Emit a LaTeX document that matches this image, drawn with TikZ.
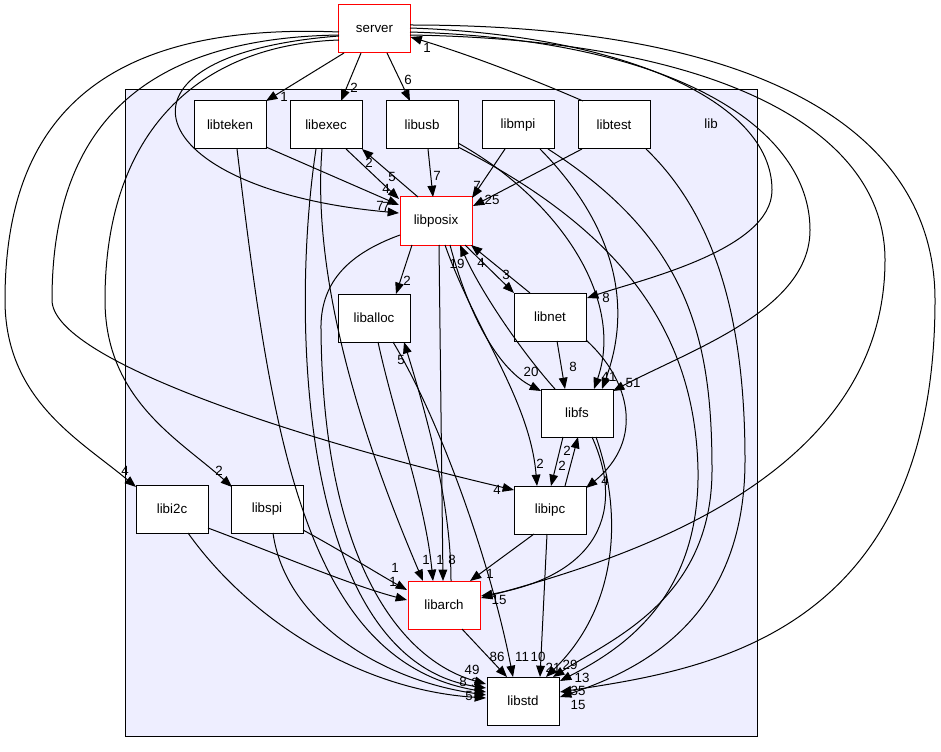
\documentclass[tikz,border=0pt]{standalone}
\usepackage{fontspec}
\setmainfont{Liberation Sans}
\usetikzlibrary{arrows.meta,calc}
\definecolor{clusterfill}{HTML}{EEEEFF}
\begin{document}
\begin{tikzpicture}[x=0.75pt,y=-0.75pt,
  dirbox/.style={draw=black,fill=white,minimum width=54pt,minimum height=36pt,inner sep=0pt,font=\fontsize{10}{12}\selectfont,line width=0.75pt},
  redbox/.style={dirbox,draw=red},
  dep/.style={draw=black,line width=0.75pt,-{Triangle[length=8.5pt,width=6.5pt]}},
  lbl/.style={font=\fontsize{10}{12}\selectfont,inner sep=0pt}]
\useasboundingbox (0,0) rectangle (941,752);
\draw[fill=clusterfill,line width=0.75pt] (125,90) rectangle (757,736);
\node[lbl] (liblabel) at (711,124) {lib};
% nodes
\node[redbox] (server) at (374.5,29) {server};
\node[dirbox] (libteken) at (230,125) {libteken};
\node[dirbox] (libexec) at (326,125) {libexec};
\node[dirbox] (libusb) at (422,125) {libusb};
\node[dirbox] (libmpi) at (518,125) {libmpi};
\node[dirbox] (libtest) at (614,125) {libtest};
\node[redbox] (libposix) at (436,221) {libposix};
\node[dirbox] (liballoc) at (374,318) {liballoc};
\node[dirbox] (libnet) at (550,317) {libnet};
\node[dirbox] (libfs) at (577,413) {libfs};
\node[dirbox] (libipc) at (550,510) {libipc};
\node[dirbox] (libi2c) at (172,509) {libi2c};
\node[dirbox] (libspi) at (267,509) {libspi};
\node[redbox] (libarch) at (444,605) {libarch};
\node[dirbox] (libstd) at (523,701) {libstd};
% edges from server
\draw[dep] ($(server)+(-30.5,24)$) -- ($(libteken)+(36,-24)$) node[lbl,at={(284,97)}] {1};
\draw[dep] ($(server)+(-13.5,24)$) -- ($(libexec)+(15,-24)$) node[lbl,at={(354,88)}] {2};
\draw[dep] ($(server)+(12.5,24)$) -- ($(libusb)+(-12,-24)$) node[lbl,at={(408,80)}] {6};
\draw[dep] ($(libtest)+(-31,-24)$) .. controls (530,78) and (470,55) .. ($(server)+(36,8)$) node[lbl,at={(427,48)}] {1};
\draw[dep] ($(server)+(-35.5,7)$) .. controls (90,55) and (140,190) .. ($(libposix)+(-37,-8)$) node[lbl,at={(380,206)}] {7} node[lbl,at={(386,207)}] {7};
\draw[dep] ($(server)+(-35.5,11)$) .. controls (200,45) and (105,130) .. (105,300) .. controls (105,400) and (180,440) .. ($(libspi)+(-35,-22)$) node[lbl,at={(219,471)}] {2};
\draw[dep] ($(server)+(-35.5,6)$) .. controls (150,38) and (52,120) .. (52,300) .. controls (52,360) and (300,440) .. ($(libipc)+(-36,-20)$) node[lbl,at={(497,490)}] {4};
\draw[dep] ($(server)+(-35.5,3)$) .. controls (100,22) and (5,120) .. (5,300) .. controls (5,400) and (80,440) .. ($(libi2c)+(-36,-22)$) node[lbl,at={(125,471)}] {4};
\draw[dep] ($(server)+(35.5,-1)$) .. controls (620,35) and (772,100) .. (772,190) .. controls (772,250) and (640,280) .. ($(libnet)+(37,-19)$) node[lbl,at={(606,298)}] {8};
\draw[dep] ($(server)+(35.5,3)$) .. controls (680,40) and (810,130) .. (810,230) .. controls (810,310) and (690,350) .. ($(libfs)+(36,-22)$) node[lbl,at={(633,383)}] {51};
\draw[dep] ($(server)+(35.5,6)$) .. controls (720,40) and (885,130) .. (885,260) .. controls (885,480) and (620,560) .. ($(libarch)+(37,-7)$) node[lbl,at={(499,600)}] {15};
\draw[dep] ($(server)+(35.5,-4)$) .. controls (760,25) and (935,130) .. (935,300) .. controls (935,640) and (700,670) .. ($(libstd)+(37,-9)$) node[lbl,at={(578,691)}] {35};
% libtest
\draw[dep] ($(libtest)+(-32,24)$) -- ($(libposix)+(37,-15)$) node[lbl,at={(492,200)}] {25};
\draw[dep] ($(libtest)+(32,24)$) .. controls (720,220) and (745,330) .. (745,460) .. controls (745,620) and (640,670) .. ($(libstd)+(37,-4)$) node[lbl,at={(578,705)}] {15};
% libmpi
\draw[dep] ($(libmpi)+(-13,24)$) -- ($(libposix)+(36,-23)$) node[lbl,at={(477,186)}] {7};
\draw[dep] ($(libmpi)+(22,24)$) .. controls (610,220) and (635,300) .. ($(libfs)+(25,-24)$);
\draw[dep] ($(libmpi)+(30,24)$) .. controls (690,240) and (712,340) .. (712,470) .. controls (712,600) and (610,640) .. ($(libstd)+(30,-24)$) node[lbl,at={(570,665)}] {29};
% libusb
\draw[dep] ($(libusb)+(6,24)$) -- ($(libposix)+(-3,-24)$) node[lbl,at={(437,176)}] {7};
\draw[dep] ($(libusb)+(36,18)$) .. controls (560,200) and (625,300) .. ($(libfs)+(17,-24)$) node[lbl,at={(609,377)}] {41};
\draw[dep] ($(libusb)+(36,22)$) .. controls (620,230) and (695,330) .. (698,470) .. controls (700,600) and (620,650) .. ($(libstd)+(37,-20)$) node[lbl,at={(582,678)}] {13};
% libexec / libteken
\draw[dep] ($(libexec)+(20,24)$) -- ($(libposix)+(-37,-22)$) node[lbl,at={(392,177)}] {5};
\draw[dep] ($(libposix)+(-18,-24)$) -- ($(libexec)+(36,24)$) node[lbl,at={(369,163)}] {2};
\draw[dep] ($(libteken)+(36,22)$) -- ($(libposix)+(-37,-16)$) node[lbl,at={(386,189)}] {4};
\draw[dep] ($(libexec)+(-4,24)$) .. controls (310,300) and (380,480) .. ($(libarch)+(-21,-24)$) node[lbl,at={(426,560)}] {1};
\draw[dep] ($(libexec)+(-10,24)$) .. controls (290,320) and (300,660) .. ($(libstd)+(-37,-13)$) node[lbl,at={(463,682)}] {8};
\draw[dep] ($(libteken)+(7,24)$) .. controls (270,420) and (300,660) .. ($(libstd)+(-37,-9)$) node[lbl,at={(475,683)}] {3};
% libposix
\draw[dep] ($(libposix)+(-24,24)$) -- ($(liballoc)+(22,-24)$) node[lbl,at={(407,281)}] {2};
\draw[dep] ($(libposix)+(-36,14)$) .. controls (345,255) and (320,285) .. (321,330) .. controls (323,560) and (400,660) .. ($(libstd)+(-37,-17)$) node[lbl,at={(472,670)}] {49};
\draw[dep] ($(libposix)+(3,24)$) -- ($(libarch)+(-1,-24)$) node[lbl,at={(452,560)}] {8};
\draw[dep] ($(libposix)+(9,24)$) .. controls (475,330) and (530,400) .. ($(libipc)+(-13,-24)$) node[lbl,at={(540,464)}] {2};
\draw[dep] ($(libposix)+(14,24)$) .. controls (470,320) and (500,370) .. ($(libfs)+(-36,-22)$) node[lbl,at={(531,372)}] {20};
\draw[dep] ($(libfs)+(-22,-24)$) .. controls (520,350) and (480,290) .. ($(libposix)+(24,24)$) node[lbl,at={(457,264)}] {19};
\draw[dep] ($(libposix)+(29,24)$) -- ($(libnet)+(-36,-24)$) node[lbl,at={(506,275)}] {3};
\draw[dep] ($(libnet)+(-20,-24)$) -- ($(libposix)+(35,24)$) node[lbl,at={(481,263)}] {4};
% libnet
\draw[dep] ($(libnet)+(7,24)$) -- ($(libfs)+(-12,-24)$) node[lbl,at={(573,367)}] {8};
\draw[dep] ($(libnet)+(36,23)$) .. controls (630,380) and (645,440) .. ($(libipc)+(36,-22)$) node[lbl,at={(605,481)}] {4};
% libfs
\draw[dep] ($(libfs)+(-14,24)$) -- ($(libipc)+(1,-24)$) node[lbl,at={(562,466)}] {2};
\draw[dep] ($(libipc)+(15,-24)$) -- ($(libfs)+(1,24)$) node[lbl,at={(567,451)}] {2};
\draw[dep] ($(libfs)+(15,24)$) .. controls (625,510) and (600,575) .. ($(libarch)+(37,-9)$);
\draw[dep] ($(libfs)+(19,24)$) .. controls (625,520) and (615,610) .. ($(libstd)+(23,-24)$) node[lbl,at={(553,668)}] {21};
% libipc
\draw[dep] ($(libipc)+(-16,24)$) -- ($(libarch)+(26,-24)$) node[lbl,at={(490,574)}] {1};
\draw[dep] ($(libipc)+(-3,24)$) -- ($(libstd)+(17,-24)$) node[lbl,at={(538,657)}] {10};
% liballoc
\draw[dep] ($(liballoc)+(4,24)$) .. controls (395,420) and (425,500) .. ($(libarch)+(-11,-24)$) node[lbl,at={(440,560)}] {1};
\draw[dep] ($(libarch)+(7,-24)$) .. controls (451,500) and (425,410) .. ($(liballoc)+(30,24)$) node[lbl,at={(401,360)}] {5};
\draw[dep] ($(liballoc)+(19,24)$) .. controls (440,420) and (490,560) .. ($(libstd)+(-10,-24)$) node[lbl,at={(522,657)}] {11};
% libi2c / libspi
\draw[dep] ($(libi2c)+(16,24)$) .. controls (250,620) and (360,690) .. ($(libstd)+(-37,-3)$) node[lbl,at={(469,696)}] {5};
\draw[dep] ($(libspi)+(6,24)$) .. controls (285,620) and (380,680) .. ($(libstd)+(-37,-6)$);
\draw[dep] ($(libi2c)+(36,19)$) .. controls (280,555) and (350,585) .. ($(libarch)+(-37,-5)$) node[lbl,at={(393,582)}] {1};
\draw[dep] ($(libspi)+(36,21)$) .. controls (340,550) and (380,575) .. ($(libarch)+(-37,-15)$) node[lbl,at={(395,568)}] {1};
% libarch
\draw[dep] ($(libarch)+(18,24)$) -- ($(libstd)+(-16,-24)$) node[lbl,at={(497,657)}] {86};
\end{tikzpicture}
\end{document}
